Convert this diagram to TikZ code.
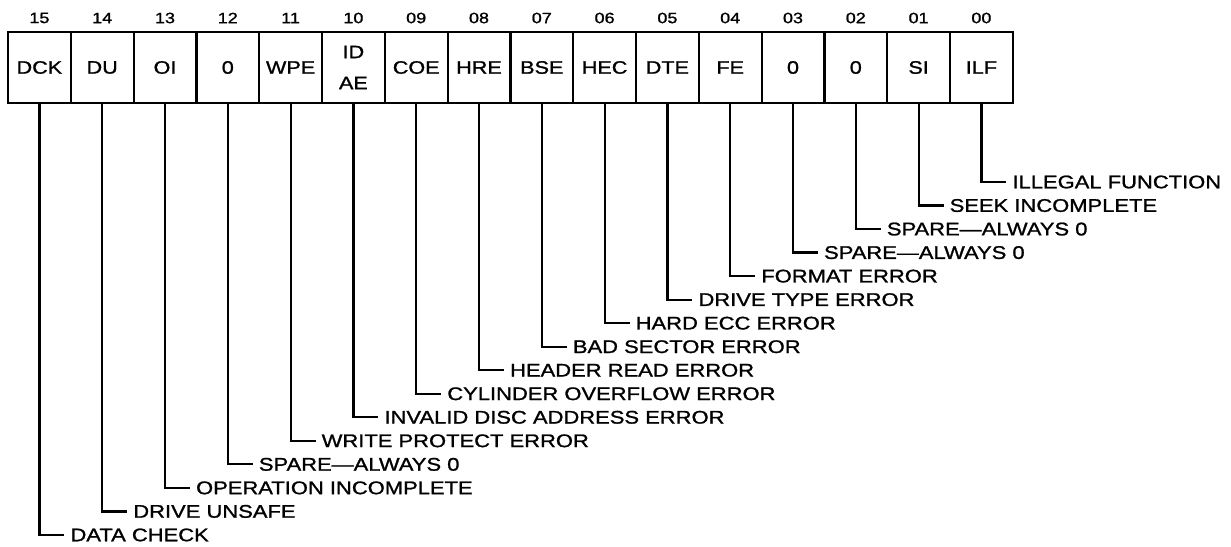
\documentclass[tikz,border=0pt]{standalone}
\usepackage{fontspec}
\newfontfamily\labfont[FakeStretch=1.2,FakeBold=1.2]{Liberation Sans}
\begin{document}
\begin{tikzpicture}[x=1pt,y=-1pt, line width=2.2pt,
  bitbox/.style={draw, minimum width=62.8pt, minimum height=71pt, inner sep=0pt,
    font=\labfont\fontsize{18}{31}\selectfont, align=center},
  bitnum/.style={font=\labfont\fontsize{15}{16}\selectfont, inner sep=0pt},
  desc/.style={anchor=west, inner xsep=5pt, inner ysep=0pt,
    font=\labfont\fontsize{18.3}{20}\selectfont},
  conn/.style={line width=2.2pt}]
\useasboundingbox (0,0) rectangle (1231,546);
\foreach \i/\n/\t/\l in {
  15/15/DCK/DATA CHECK,
  14/14/DU/DRIVE UNSAFE,
  13/13/OI/OPERATION INCOMPLETE,
  12/12/0/SPARE—ALWAYS 0,
  11/11/WPE/WRITE PROTECT ERROR,
  10/10/{ID\\AE}/INVALID DISC ADDRESS ERROR,
  9/09/COE/CYLINDER OVERFLOW ERROR,
  8/08/HRE/HEADER READ ERROR,
  7/07/BSE/BAD SECTOR ERROR,
  6/06/HEC/HARD ECC ERROR,
  5/05/DTE/DRIVE TYPE ERROR,
  4/04/FE/FORMAT ERROR,
  3/03/0/SPARE—ALWAYS 0,
  2/02/0/SPARE—ALWAYS 0,
  1/01/SI/SEEK INCOMPLETE,
  0/00/ILF/ILLEGAL FUNCTION} {
  \pgfmathsetmacro\cx{8+(15-\i+0.5)*62.8}
  \pgfmathsetmacro\ly{182+\i*23.53}
  \node[bitbox] (b\i) at (\cx,67.5) {\t};
  \node[bitnum] (n\i) at (\cx,18) {\n};
  \node[desc] (l\i) at (\cx+25,\ly) {\l};
  \draw[conn] (b\i.south) |- (l\i.west);
}
\end{tikzpicture}
\end{document}
